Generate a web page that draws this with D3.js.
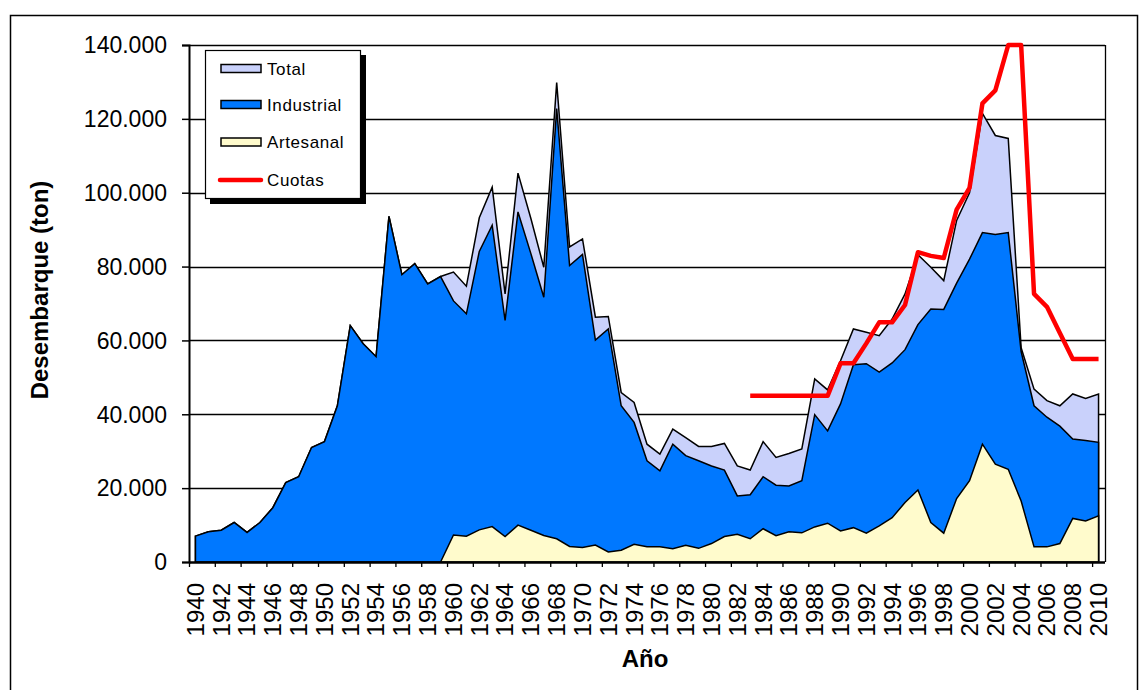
<!DOCTYPE html>
<html>
<head>
<meta charset="utf-8">
<script src="https://cdn.jsdelivr.net/npm/d3@7"></script>
<style>
  html, body { margin: 0; padding: 0; background: #fff; }
  svg { display: block; font-family: "Liberation Sans", Arial, sans-serif; }
</style>
</head>
<body>
<svg id="chart" width="1147" height="690"></svg>
<script>
// ---------- DATA (thousand tonnes) ----------
const years = d3.range(1940, 2011);

const total = [
  7.0, 8.2, 8.6, 10.7, 8.0, 10.7, 14.7, 21.5, 23.1, 31.0,
  32.6, 42.3, 64.0, 59.1, 55.6, 93.6, 77.8, 80.8, 75.3, 77.3,
  78.5, 74.7, 93.2, 101.5, 72.6, 105.3, 93.0, 79.8, 129.8, 85.3,
  87.5, 66.3, 66.5, 45.9, 43.2, 31.9, 29.2, 36.0, 33.7, 31.3,
  31.3, 32.1, 26.0, 24.9, 32.6, 28.3, 29.4, 30.6, 49.6, 46.6,
  54.5, 63.1, 62.2, 61.3, 65.8, 72.6, 83.2, 79.8, 76.2, 92.5,
  100.0, 121.5, 115.5, 114.7, 58.0, 46.8, 43.7, 42.3, 45.5, 44.3,
  45.5
];

const industrial = [
  7.0, 8.2, 8.6, 10.7, 8.0, 10.7, 14.7, 21.5, 23.1, 31.0,
  32.6, 42.3, 64.0, 59.1, 55.6, 93.6, 77.8, 80.8, 75.3, 77.3,
  70.7, 67.2, 84.1, 91.2, 65.4, 94.8, 83.5, 71.7, 122.8, 80.3,
  83.3, 60.1, 63.1, 42.3, 37.8, 27.4, 24.7, 31.9, 28.8, 27.4,
  26.0, 24.9, 17.9, 18.2, 23.1, 20.8, 20.6, 22.0, 39.9, 35.5,
  42.8, 53.4, 53.7, 51.4, 53.9, 57.5, 64.3, 68.5, 68.4, 75.5,
  82.0, 89.2, 88.7, 89.2, 57.0, 42.3, 39.2, 36.8, 33.3, 32.9,
  32.4
];

// Artesanal starts in 1959
const artesanal = [
  null, null, null, null, null, null, null, null, null, null,
  null, null, null, null, null, null, null, null, null, 0,
  7.3, 7.0, 8.7, 9.6, 6.9, 10.0, 8.6, 7.2, 6.3, 4.2,
  3.9, 4.6, 2.7, 3.2, 4.8, 4.1, 4.1, 3.6, 4.5, 3.7,
  5.0, 6.9, 7.5, 6.3, 9.0, 7.1, 8.2, 7.9, 9.5, 10.5,
  8.4, 9.3, 7.8, 9.8, 12.0, 16.1, 19.5, 10.7, 7.8, 17.2,
  22.0, 31.9, 26.5, 25.1, 16.5, 4.1, 4.1, 5.0, 11.8, 11.1,
  12.5
];

// Cuotas starts in 1983
const cuotaYears = d3.range(1983, 2011);
const cuotas = [
  45, 45, 45, 45, 45, 45, 45, 53.8, 53.8, 59.2,
  64.9, 64.9, 69.6, 83.9, 82.9, 82.3, 95.4, 101.3, 124.2, 127.7,
  140, 140, 72.6, 69.1, 62.0, 55.0, 55.0, 55.0
];

const yTicks = [0, 20000, 40000, 60000, 80000, 100000, 120000, 140000];
const xLabelYears = years.filter(v => v % 2 === 0);

const seriesNames = ["Total", "Industrial", "Artesanal", "Cuotas"];
const colors = { Total: "#C9D1FB", Industrial: "#0078FF", Artesanal: "#FFFBCC", Cuotas: "#FF0000" };

// ---------- LAYOUT ----------
const svg = d3.select("#chart");
const pL = 189, pR = 1105, pT = 45, pB = 562;
const font = "'Liberation Sans', Arial, sans-serif";

// outer frame
svg.append("rect").attr("x", 10.5).attr("y", 15.5).attr("width", 1127).attr("height", 720)
  .attr("fill", "none").attr("stroke", "#000").attr("stroke-width", 1.5);

const x = d3.scaleBand().domain(years).range([pL, pR]).paddingInner(0).paddingOuter(0);
const cx = yr => x(yr) + x.bandwidth() / 2;
const y = d3.scaleLinear().domain([0, 140000]).range([pB, pT]);
const idx = d3.scaleLinear().domain([0, years.length]).range([pL, pR]);

// gridlines
svg.append("g").selectAll("line").data(yTicks.filter(d => d > 0)).join("line")
  .attr("x1", pL).attr("x2", pR)
  .attr("y1", d => Math.round(y(d)) + 0.5).attr("y2", d => Math.round(y(d)) + 0.5)
  .attr("stroke", "#000").attr("stroke-width", 1.3);

// right border of plot
svg.append("line").attr("x1", pR + 0.5).attr("x2", pR + 0.5).attr("y1", pT).attr("y2", pB)
  .attr("stroke", "#000").attr("stroke-width", 1.3);

// ---------- AREAS ----------
const areaGen = d3.area()
  .defined(d => d.v !== null)
  .x(d => cx(d.yr))
  .y0(y(0))
  .y1(d => y(d.v * 1000));
function rows(vals) { return years.map((yr, i) => ({ yr, v: vals[i] })); }

[["Total", total], ["Industrial", industrial], ["Artesanal", artesanal]].forEach(([name, vals]) => {
  svg.append("path").datum(rows(vals))
    .attr("d", areaGen)
    .attr("fill", colors[name])
    .attr("stroke", "#000").attr("stroke-width", 1.5).attr("stroke-linejoin", "miter");
});

// ---------- AXES ----------
const yAxis = d3.axisLeft(y).tickValues(yTicks).tickSize(7).tickPadding(15)
  .tickFormat(d => d === 0 ? "0" : d3.format(",")(d).replace(/,/g, "."));
const gy = svg.append("g").attr("transform", `translate(${pL},0)`).call(yAxis);
gy.select(".domain").attr("stroke", "#000").attr("stroke-width", 2);
gy.selectAll(".tick line").attr("stroke", "#000").attr("stroke-width", 1.5);
gy.selectAll(".tick text").attr("font-family", font).attr("font-size", 23).attr("fill", "#000").attr("dy", "0.34em");

// x tick marks at every second category boundary
const xTickAxis = d3.axisBottom(idx).tickValues(d3.range(0, years.length + 1, 2)).tickSize(5).tickFormat("");
const gxt = svg.append("g").attr("transform", `translate(0,${pB})`).call(xTickAxis);
gxt.select(".domain").attr("stroke", "#000").attr("stroke-width", 2.5).attr("d", `M${pL},0.5H${pR}`);
gxt.selectAll(".tick line").attr("stroke", "#000").attr("stroke-width", 1.3);

// x labels (rotated)
svg.append("g").selectAll("text").data(xLabelYears).join("text")
  .attr("transform", d => `translate(${cx(d)},583) rotate(-90)`)
  .attr("dy", "0.35em")
  .attr("text-anchor", "end")
  .attr("font-family", font).attr("font-size", 24).attr("fill", "#000")
  .text(d => d);

// ---------- CUOTAS LINE ----------
const cuotaData = cuotaYears.map((yr, i) => ({ yr, v: cuotas[i] }));
svg.append("path").datum(cuotaData)
  .attr("d", d3.line().x(d => cx(d.yr)).y(d => y(d.v * 1000)))
  .attr("fill", "none").attr("stroke", colors.Cuotas).attr("stroke-width", 4.5)
  .attr("stroke-linejoin", "round").attr("stroke-linecap", "butt");

// ---------- TITLES ----------
svg.append("text").attr("transform", "translate(40,290) rotate(-90)")
  .attr("dy", "0.35em").attr("text-anchor", "middle")
  .attr("font-family", font).attr("font-weight", "bold").attr("font-size", 24).attr("fill", "#000")
  .text("Desembarque (ton)");

svg.append("text").attr("x", 645).attr("y", 667).attr("text-anchor", "middle")
  .attr("font-family", font).attr("font-weight", "bold").attr("font-size", 24).attr("fill", "#000")
  .text("Año");

// ---------- LEGEND ----------
const lg = svg.append("g");
lg.append("rect").attr("x", 210).attr("y", 55).attr("width", 156).attr("height", 149).attr("fill", "#000");
lg.append("rect").attr("x", 205.5).attr("y", 50.5).attr("width", 155).attr("height", 148)
  .attr("fill", "#fff").attr("stroke", "#000").attr("stroke-width", 1.2);
const legendRows = seriesNames.map((n, i) => ({ name: n, yMid: [68.5, 104.5, 142, 180][i] }));
legendRows.forEach(r => {
  if (r.name === "Cuotas") {
    lg.append("line").attr("x1", 220).attr("x2", 261).attr("y1", r.yMid).attr("y2", r.yMid)
      .attr("stroke", colors.Cuotas).attr("stroke-width", 4.5).attr("stroke-linecap", "round");
  } else {
    lg.append("rect").attr("x", 221).attr("y", r.yMid - 4).attr("width", 40).attr("height", 8)
      .attr("fill", colors[r.name]).attr("stroke", "#000").attr("stroke-width", 1.5);
  }
  lg.append("text").attr("x", 267).attr("y", r.yMid).attr("dy", "0.36em")
    .attr("font-family", font).attr("font-size", 17).attr("letter-spacing", "0.6px")
    .attr("fill", "#000").text(r.name);
});
</script>
</body>
</html>
